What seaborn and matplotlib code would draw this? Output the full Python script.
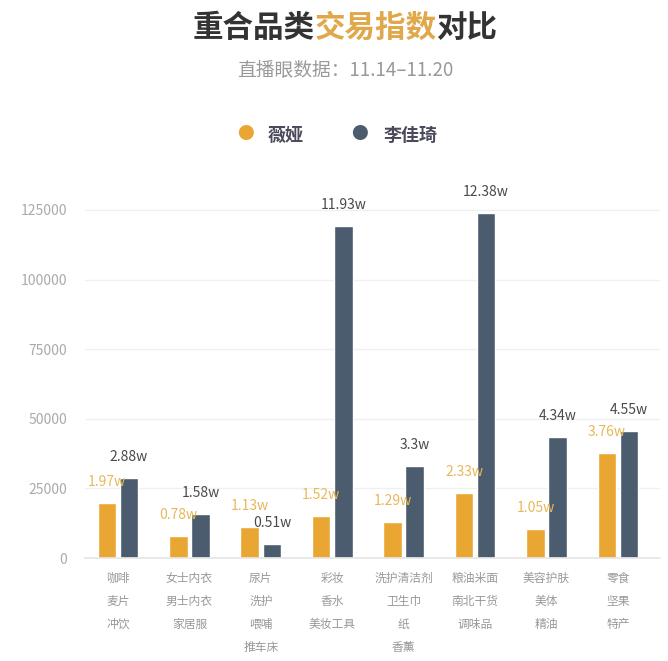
import pandas as pd
import matplotlib.pyplot as plt
import seaborn as sns

sns.set_theme(style='white')
plt.rcParams['font.family'] = ['Noto Sans CJK SC', 'DejaVu Sans']

# 数据
categories = ['咖啡\n麦片\n冲饮', '女士内衣\n男士内衣\n家居服', '尿片\n洗护\n喂哺\n推车床',
              '彩妆\n香水\n美妆工具', '洗护清洁剂\n卫生巾\n纸\n香薰', '粮油米面\n南北干货\n调味品',
              '美容护肤\n美体\n精油', '零食\n坚果\n特产']
weiya = [19700, 7800, 11300, 15200, 12900, 23300, 10500, 37600]
lijiaqi = [28800, 15800, 5100, 119300, 33000, 123800, 43400, 45500]
weiya_labels = ['1.97w', '0.78w', '1.13w', '1.52w', '1.29w', '2.33w', '1.05w', '3.76w']
lijiaqi_labels = ['2.88w', '1.58w', '0.51w', '11.93w', '3.3w', '12.38w', '4.34w', '4.55w']
series = ['薇娅', '李佳琦']

ORANGE = '#E9A633'
DARK = '#4A5C6E'

df = pd.DataFrame({
    '品类': categories * 2,
    '主播': [series[0]] * len(categories) + [series[1]] * len(categories),
    '指数': weiya + lijiaqi,
})

fig = plt.figure(figsize=(6.68, 6.61), dpi=100)
ax = fig.add_axes([85 / 668, 103 / 661, 575 / 668, 362 / 661])

sns.barplot(data=df, x='品类', y='指数', hue='主播', order=categories, hue_order=series,
            palette=[ORANGE, DARK], width=0.62, gap=0.16, saturation=1,
            legend=False, ax=ax)

# 数值标签
for cont, labs, col in zip(ax.containers, [weiya_labels, lijiaqi_labels], ['#E8B85A', '#4A4A4A']):
    ax.bar_label(cont, labels=labs, padding=10, color=col, fontsize=10)

ax.set_xlim(-0.462, 7.59)
ax.set_ylim(0, 130000)
ax.set_yticks([0, 25000, 50000, 75000, 100000, 125000])
ax.grid(axis='y', color='#F0F0F0', linewidth=1)
ax.set_axisbelow(True)
for s in ['top', 'right', 'left']:
    ax.spines[s].set_visible(False)
ax.spines['bottom'].set_color('#E6E6E6')
ax.set_xlabel('')
ax.set_ylabel('')
ax.tick_params(axis='y', length=0, pad=13, labelsize=10, labelcolor='#AAAAAA')
ax.tick_params(axis='x', length=3, color='#DDDDDD', pad=7, labelsize=8.5, labelcolor='#999999')
for t in ax.get_xticklabels():
    t.set_linespacing(2.0)
    t.set_verticalalignment('top')

# 标题（分段着色，依次拼接）
parts = [('重合品类', '#333333'), ('交易指数', '#E0A84A'), ('对比', '#333333')]
renderer = fig.canvas.get_renderer()
texts = []
x = 0
for s, c in parts:
    t = fig.text(x, 1 - 28 / 661, s, ha='left', va='center', fontsize=22, fontweight='bold', color=c)
    x += t.get_window_extent(renderer).width / fig.bbox.width
    texts.append(t)
x0 = 345 / 668 - x / 2
for t in texts:
    t.set_x(t.get_position()[0] + x0)

fig.text(345 / 668, 1 - 70 / 661, '直播眼数据：11.14–11.20', ha='center', va='center', fontsize=13.5, color='#999999')

# 图例
fig.text(245 / 668, 1 - 135 / 661, '●', ha='center', va='center', fontsize=12, color=ORANGE)
fig.text(268 / 668, 1 - 135 / 661, '薇娅', ha='left', va='center', fontsize=13, fontweight='bold', color='#4A4A5A')
fig.text(359 / 668, 1 - 135 / 661, '●', ha='center', va='center', fontsize=12, color=DARK)
fig.text(384 / 668, 1 - 135 / 661, '李佳琦', ha='left', va='center', fontsize=13, fontweight='bold', color='#4A4A5A')

fig.savefig('out.png', dpi=100)
